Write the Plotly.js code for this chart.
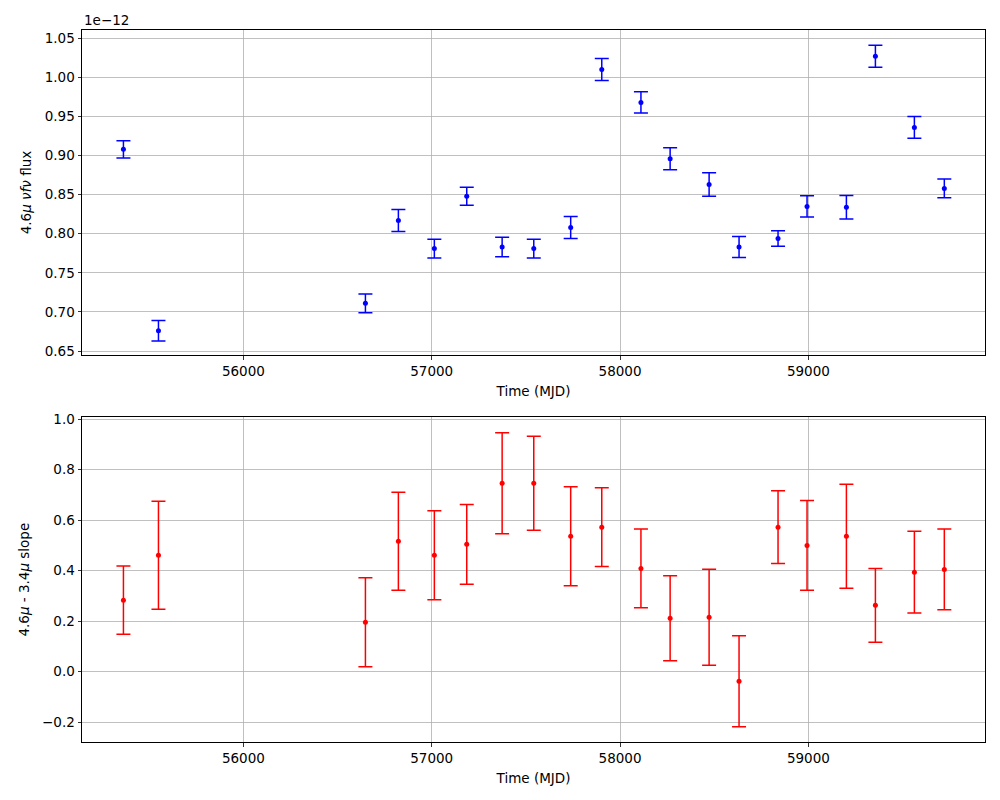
<!DOCTYPE html>
<html>
<head>
<meta charset="utf-8">
<script src="https://cdn.plot.ly/plotly-3.0.1.min.js"></script>
<style>html,body{margin:0;padding:0;background:#fff;}#chart{width:1000px;height:800px;}</style>
</head>
<body>
<div id="chart"></div>
<script>
// Observation epochs (MJD)
var mjd = [55363, 55549, 56648, 56823, 57014, 57186, 57374, 57542, 57738, 57903,
           58111, 58266, 58473, 58632, 58839, 58993, 59202, 59356, 59563, 59722];
// 4.6 micron nu f_nu flux, in units of 1e-12
var flux = [0.908, 0.676, 0.711, 0.817, 0.781, 0.848, 0.783, 0.781, 0.808, 1.010,
            0.968, 0.896, 0.863, 0.783, 0.794, 0.835, 0.834, 1.027, 0.936, 0.858];
var fluxErr = [0.011, 0.013, 0.012, 0.014, 0.012, 0.0115, 0.0125, 0.012, 0.014, 0.014,
               0.0135, 0.014, 0.015, 0.0135, 0.010, 0.0135, 0.015, 0.014, 0.014, 0.012];
// 4.6 - 3.4 micron slope
var slope = [0.283, 0.461, 0.196, 0.516, 0.461, 0.504, 0.746, 0.746, 0.536, 0.572,
             0.409, 0.212, 0.216, -0.038, 0.572, 0.500, 0.536, 0.263, 0.394, 0.405];
var slopeErr = [0.135, 0.214, 0.176, 0.194, 0.176, 0.158, 0.200, 0.186, 0.196, 0.156,
                0.156, 0.168, 0.190, 0.180, 0.144, 0.178, 0.206, 0.146, 0.162, 0.160];
var xTicks = [56000, 57000, 58000, 59000];

var font = {family: 'DejaVu Sans, sans-serif', size: 13.5, color: '#000'};

var traces = [
  {x: mjd, y: flux, type: 'scatter', mode: 'markers',
   marker: {color: 'blue', size: 5},
   error_y: {type: 'data', array: fluxErr, visible: true, color: 'blue', thickness: 1.5, width: 7},
   xaxis: 'x', yaxis: 'y', showlegend: false},
  {x: mjd, y: slope, type: 'scatter', mode: 'markers',
   marker: {color: 'red', size: 5},
   error_y: {type: 'data', array: slopeErr, visible: true, color: 'red', thickness: 1.5, width: 7},
   xaxis: 'x2', yaxis: 'y2', showlegend: false}
];

function xax(anchor) {
  return {
    anchor: anchor, range: [55143, 59938], tickvals: xTicks, tickformat: 'd',
    showgrid: true, gridcolor: '#b0b0b0', gridwidth: 0.8, zeroline: false,
    showline: true, mirror: true, linecolor: '#000', linewidth: 1,
    ticks: 'outside', ticklen: 3.5, tickwidth: 0.8, tickcolor: '#000',
    tickfont: font, automargin: false,
    title: {text: 'Time (MJD)', font: font, standoff: 8}
  };
}
function yax(anchor, domain, range, dtick, fmt, title, standoff) {
  return {
    anchor: anchor, domain: domain, range: range, dtick: dtick, tick0: 0, tickformat: fmt,
    showgrid: true, gridcolor: '#b0b0b0', gridwidth: 0.8, zeroline: false,
    showline: true, mirror: true, linecolor: '#000', linewidth: 1,
    ticks: 'outside', ticklen: 3.5, tickwidth: 0.8, tickcolor: '#000',
    tickfont: font, automargin: false,
    title: {text: title, font: font, standoff: standoff}
  };
}

var layout = {
  width: 1000, height: 800,
  paper_bgcolor: '#fff', plot_bgcolor: '#fff',
  margin: {l: 82, r: 15, t: 30, b: 58},
  font: font,
  xaxis: xax('y'),
  yaxis: yax('x', [0.5435, 1], [0.6449, 1.0606], 0.05, '.2f', '4.6<i>μ</i> <i>νfν</i> flux', 9),
  xaxis2: xax('y2'),
  yaxis2: yax('x2', [0, 0.456], [-0.278, 1.0067], 0.2, '.1f', '4.6<i>μ</i> - 3.4<i>μ</i> slope', 9),
  annotations: [
    {text: '1e\u221212', xref: 'paper', yref: 'paper', x: 0, y: 1, xanchor: 'left', yanchor: 'bottom',
     showarrow: false, font: font, yshift: 0}
  ]
};

Plotly.newPlot('chart', traces, layout, {displayModeBar: false, staticPlot: true});
</script>
</body>
</html>
